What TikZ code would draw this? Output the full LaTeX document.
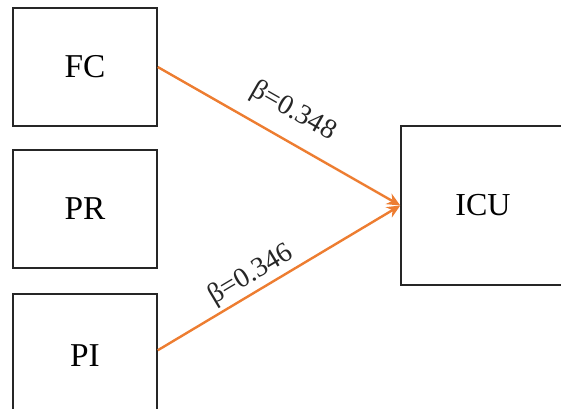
\documentclass[tikz,border=0pt]{standalone}
\usepackage{fontspec}
\setmainfont{Liberation Serif}
\usepackage{tikz}
\usetikzlibrary{arrows.meta}
\definecolor{mypathcolor}{HTML}{ED7D31}
\tikzset{varbox/.style={draw=black!85, line width=1.1pt, fill=white, rectangle, inner sep=0pt},
pathline/.style={draw=mypathcolor, line width=1.8pt, -{Stealth[length=10pt, width=9pt]}},
betalabel/.style={sloped, inner sep=0pt, text=black!85}}

\begin{document}
\begin{tikzpicture}[x=0.75pt, y=-0.75pt]%
\clip (0, 0) rectangle (561, 409);%
\node[varbox, minimum width=108pt, minimum height=88.5pt] (fc) at (85, 67) {\fontsize{25pt}{25pt}\selectfont FC};%
\node[varbox, minimum width=108pt, minimum height=88.5pt] (pr) at (85, 209) {\fontsize{25pt}{25pt}\selectfont PR};%
\node[varbox, minimum width=108pt, minimum height=92pt] (pi) at (85, 355.3) {\fontsize{25pt}{25pt}\selectfont PI};%
\node[varbox, minimum width=123pt, minimum height=119pt] (icu) at (483, 205.5) {\fontsize{24pt}{24pt}\selectfont ICU};%
\draw[pathline] (fc.east) -- node[betalabel, pos=0.5, above=11pt] {\fontsize{21pt}{21pt}\selectfont β=0.348} (icu.west);%
\draw[pathline] (pi.east) ++(0, -5) -- node[betalabel, pos=0.42, above=2pt] {\fontsize{21pt}{21pt}\selectfont β=0.346} (icu.west);%
\end{tikzpicture}
\end{document}
